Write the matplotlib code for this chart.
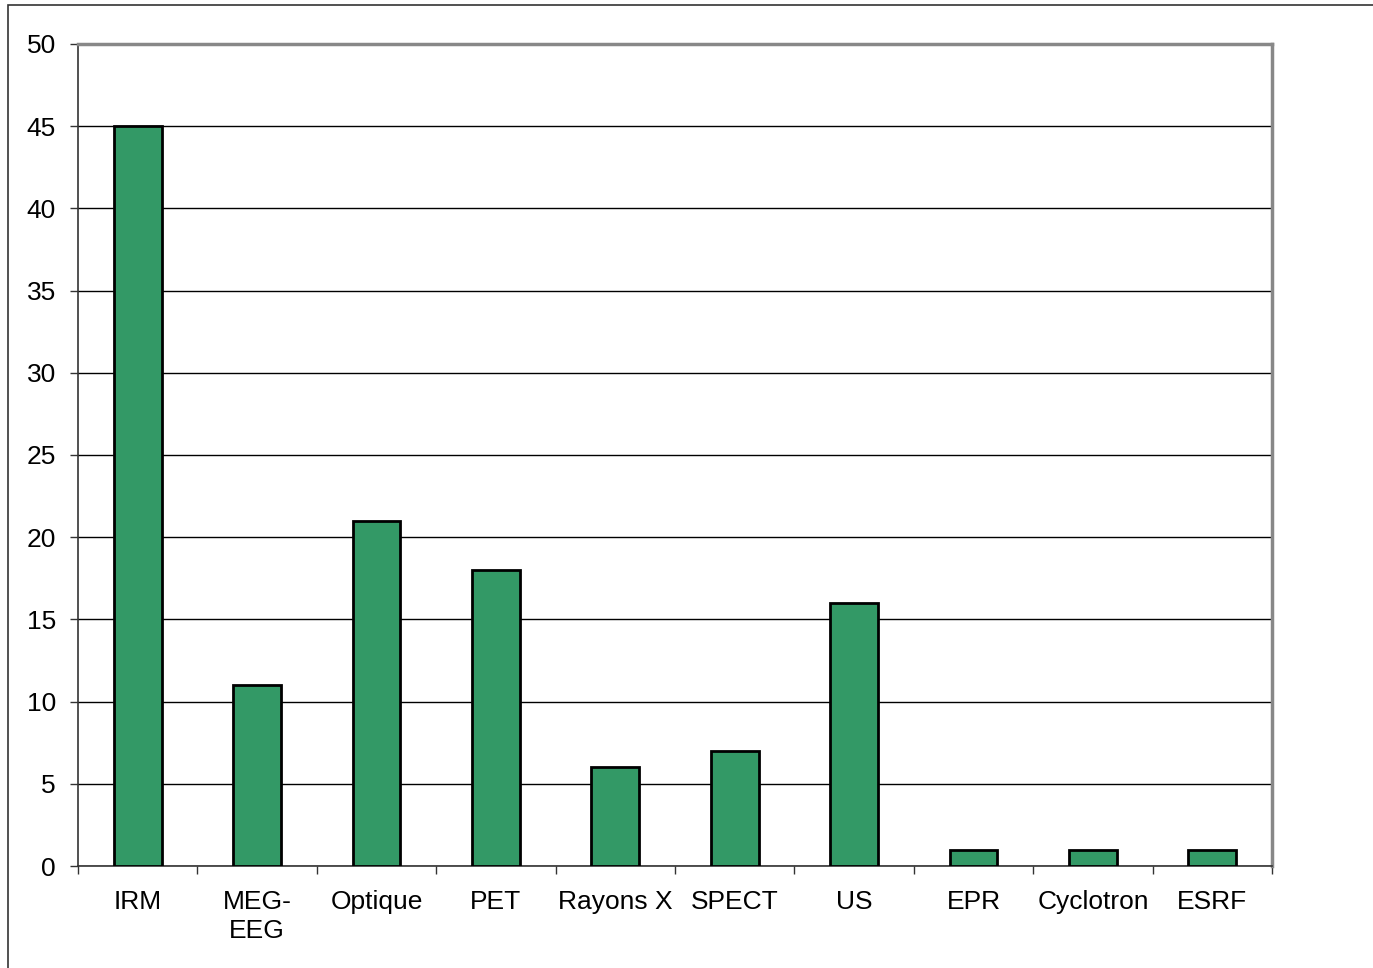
import numpy as np
import matplotlib
matplotlib.use("Agg")
from matplotlib import pyplot as plt
from matplotlib.patches import Rectangle

# Nombre par modalite d'imagerie
categories = ["IRM", "MEG-\nEEG", "Optique", "PET", "Rayons X", "SPECT", "US", "EPR", "Cyclotron", "ESRF"]
values = [45, 11, 21, 18, 6, 7, 16, 1, 1, 1]
yticks = [0, 5, 10, 15, 20, 25, 30, 35, 40, 45, 50]

plt.rcParams['font.family'] = ['Liberation Sans', 'DejaVu Sans']

fig = plt.figure(figsize=(13.73, 9.68), dpi=100)
ax = fig.add_axes([78/1373, 1 - 866/968, (1272-78)/1373, (866-44)/968])

# outer chart border (cut by the image edge on right/bottom)
fig.patches.append(Rectangle((8/1373, -0.1), 1.2, 1 - 5/968 + 0.1, transform=fig.transFigure,
                             fill=False, edgecolor="#333333", linewidth=1.2))

x = np.arange(len(categories))
ax.bar(x, values, width=0.40, color="#339966", edgecolor="black", linewidth=2, zorder=3)

ax.set_xlim(-0.5, len(categories) - 0.5)
ax.set_ylim(0, 50)
ax.set_yticks(yticks)
ax.set_yticklabels([str(v) for v in yticks], fontsize=19)
ax.yaxis.grid(True, color="black", linewidth=1)
ax.set_axisbelow(True)

# category labels between boundary ticks
ax.set_xticks(np.arange(len(categories) + 1) - 0.5)
ax.set_xticklabels([])
ax.set_xticks(x, minor=True)
ax.set_xticklabels(categories, minor=True, fontsize=19, linespacing=1.3)
ax.tick_params(axis="x", which="minor", length=0, pad=17)
ax.tick_params(axis="x", which="major", length=6, width=1, color="#333333")
ax.tick_params(axis="y", length=6, width=1, color="#333333", pad=10)

ax.spines["left"].set_color("#333333")
ax.spines["left"].set_linewidth(1.2)
ax.spines["bottom"].set_color("#333333")
ax.spines["bottom"].set_linewidth(1.2)
ax.spines["top"].set_color("#888888")
ax.spines["top"].set_linewidth(2.5)
ax.spines["right"].set_color("#888888")
ax.spines["right"].set_linewidth(2.5)

fig.savefig("out.png", dpi=100)
